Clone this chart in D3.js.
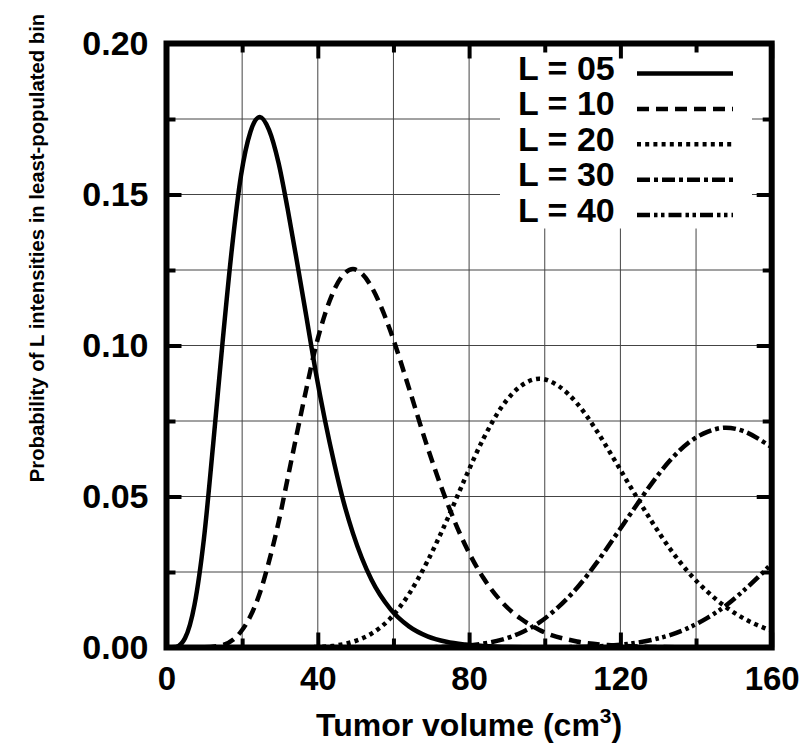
<!DOCTYPE html>
<html>
<head>
<meta charset="utf-8">
<script src="https://cdn.jsdelivr.net/npm/d3@7"></script>
<style>
  html, body { margin: 0; padding: 0; background: #fff; }
  text { font-family: "Liberation Sans", Arial, Helvetica, sans-serif; font-weight: bold; fill: #000; }
</style>
</head>
<body>
<svg id="chart" width="804" height="752"></svg>
<script>
// ---- Data ----
const seriesNames = ["L = 05", "L = 10", "L = 20", "L = 30", "L = 40"];

const volL05  = [0, 2.5, 4.9, 7.4, 9.9, 12.3, 14.8, 17.3, 19.7, 22.2, 24.7, 27.1, 29.6, 32.0, 34.5, 37.0, 39.4, 41.9, 44.4, 46.8, 49.3, 54.2, 59.2, 64.1, 69.0, 74.0, 78.9, 83.8, 88.7, 98.6, 160];
const probL05 = [0, 0.0002, 0.0031, 0.0141, 0.0361, 0.0668, 0.1008, 0.1322, 0.1563, 0.1708, 0.1757, 0.1714, 0.1606, 0.1454, 0.1277, 0.1094, 0.0916, 0.0752, 0.0607, 0.0483, 0.0378, 0.0224, 0.0127, 0.0070, 0.0037, 0.0019, 0.0010, 0.0005, 0.0002, 0.00005, 0];

const volL10  = [0, 9.9, 14.8, 19.7, 22.2, 24.7, 27.1, 29.6, 32.0, 34.5, 37.0, 39.4, 41.9, 44.4, 46.8, 49.3, 51.8, 54.2, 56.7, 59.2, 64.1, 69.0, 74.0, 78.9, 83.8, 88.7, 93.7, 98.6, 108.5, 118.3, 128.2, 138.0, 160];
const probL10 = [0, 0.00004, 0.0008, 0.0053, 0.0104, 0.0181, 0.0285, 0.0413, 0.0558, 0.0710, 0.0858, 0.0993, 0.1104, 0.1186, 0.1235, 0.1253, 0.1236, 0.1194, 0.1129, 0.1048, 0.0859, 0.0663, 0.0486, 0.0341, 0.0230, 0.0150, 0.0095, 0.0058, 0.0020, 0.0007, 0.0002, 0.00006, 0];

const volL20  = [0, 34.5, 39.4, 44.4, 49.3, 54.2, 59.2, 64.1, 69.0, 74.0, 78.9, 83.8, 88.7, 93.7, 98.6, 103.5, 108.5, 113.4, 118.3, 123.3, 128.2, 133.1, 138.0, 143.0, 147.9, 152.8, 157.8, 160];
const probL20 = [0, 0.00003, 0.00016, 0.0006, 0.0019, 0.0046, 0.0097, 0.0177, 0.0286, 0.0418, 0.0559, 0.0692, 0.0798, 0.0866, 0.0890, 0.0867, 0.0809, 0.0724, 0.0624, 0.0519, 0.0419, 0.0327, 0.0249, 0.0185, 0.0134, 0.0095, 0.0066, 0.0056];

const volL30  = [0, 64.1, 69.0, 74.0, 78.9, 83.8, 88.7, 93.7, 98.6, 103.5, 108.5, 113.4, 118.3, 123.3, 128.2, 133.1, 138.0, 143.0, 147.9, 152.8, 157.8, 160];
const probL30 = [0, 0.00002, 0.00008, 0.00022, 0.00056, 0.0013, 0.0026, 0.0049, 0.0083, 0.0133, 0.0197, 0.0275, 0.0363, 0.0454, 0.0542, 0.0619, 0.0678, 0.0714, 0.0728, 0.0715, 0.0681, 0.0663];

const volL40  = [0, 93.7, 98.6, 108.5, 113.4, 118.3, 123.3, 128.2, 133.1, 138.0, 143.0, 147.9, 152.8, 157.8, 160];
const probL40 = [0, 0.00001, 0.00003, 0.00017, 0.00037, 0.00075, 0.0014, 0.0025, 0.0041, 0.0065, 0.0098, 0.0139, 0.0191, 0.0250, 0.0278];

const xMajorTicks = [0, 40, 80, 120, 160];
const xMinorTicks = [20, 60, 100, 140];
const yMajorTicks = [0, 0.05, 0.10, 0.15, 0.20];
const yMinorTicks = [0.025, 0.075, 0.125, 0.175];
const xGrid = [20, 40, 60, 80, 100, 120, 140];
const yGrid = [0.025, 0.05, 0.075, 0.10, 0.125, 0.15, 0.175];

const xTitle = "Tumor volume (cm";
const yTitle = "Probability of L intensities in least-populated bin";

// ---- Layout ----
const L = 166.5, R = 771.7, T = 43.5, B = 647.5;
const x = d3.scaleLinear().domain([0, 160]).range([L, R]);
const y = d3.scaleLinear().domain([0, 0.20]).range([B, T]);

const svg = d3.select("#chart");

// Grid
const grid = svg.append("g").attr("stroke", "#444").attr("stroke-width", 1);
grid.selectAll("line.v").data(xGrid).join("line")
  .attr("x1", d => x(d)).attr("x2", d => x(d)).attr("y1", T).attr("y2", B);
grid.selectAll("line.h").data(yGrid).join("line")
  .attr("y1", d => y(d)).attr("y2", d => y(d)).attr("x1", L).attr("x2", R);

// Legend background
svg.append("rect").attr("x", 500).attr("y", T).attr("width", 252).attr("height", 185).attr("fill", "#fff");

// Curves
const styles = ["none", "12,7", "4,4.2", "13,4,4,4", "13,4,3.5,3.5,3.5,4"];
const series = [
  volL05.map((v, i) => [v, probL05[i]]),
  volL10.map((v, i) => [v, probL10[i]]),
  volL20.map((v, i) => [v, probL20[i]]),
  volL30.map((v, i) => [v, probL30[i]]),
  volL40.map((v, i) => [v, probL40[i]])
];

svg.append("clipPath").attr("id", "clip").append("rect")
  .attr("x", L).attr("y", T).attr("width", R - L).attr("height", B - T);

const line = d3.line().x(d => x(d[0])).y(d => y(d[1])).curve(d3.curveMonotoneX);
svg.append("g").attr("clip-path", "url(#clip)")
  .selectAll("path").data(series).join("path")
  .attr("d", line)
  .attr("fill", "none")
  .attr("stroke", "#000")
  .attr("stroke-width", 4.5)
  .attr("stroke-dasharray", (d, i) => styles[i]);

// Legend
const leg = svg.append("g");
seriesNames.forEach((name, i) => {
  const base = 80 + i * 35.4;
  leg.append("text").attr("x", 518).attr("y", base).attr("font-size", 34).text(name);
  leg.append("line").attr("x1", 637).attr("x2", 733).attr("y1", base - 6.5).attr("y2", base - 6.5)
    .attr("stroke", "#000").attr("stroke-width", 4.5).attr("stroke-dasharray", styles[i]);
});

// Axes with inward ticks
function styleAxis(size) {
  return g => {
    g.select(".domain").remove();
    g.selectAll(".tick line").attr("stroke", "#000").attr("stroke-width", 4);
    g.selectAll(".tick text").attr("font-size", size).attr("font-family", "Liberation Sans, Arial, sans-serif").attr("font-weight", "bold");
  };
}
svg.append("g").attr("transform", `translate(0,${B})`)
  .call(d3.axisBottom(x).tickValues(xMajorTicks).tickSize(-15).tickPadding(19).tickFormat(d3.format("d")))
  .call(styleAxis(33));
svg.append("g").attr("transform", `translate(0,${B})`)
  .call(d3.axisBottom(x).tickValues(xMinorTicks).tickSize(-9).tickFormat(""))
  .call(styleAxis(33));
svg.append("g").attr("transform", `translate(0,${T})`)
  .call(d3.axisTop(x).tickValues(xMajorTicks).tickSize(-15).tickFormat(""))
  .call(styleAxis(33));
svg.append("g").attr("transform", `translate(0,${T})`)
  .call(d3.axisTop(x).tickValues(xMinorTicks).tickSize(-9).tickFormat(""))
  .call(styleAxis(33));
svg.append("g").attr("transform", `translate(${L},0)`)
  .call(d3.axisLeft(y).tickValues(yMajorTicks).tickSize(-15).tickPadding(18).tickFormat(d3.format(".2f")))
  .call(styleAxis(34));
svg.append("g").attr("transform", `translate(${L},0)`)
  .call(d3.axisLeft(y).tickValues(yMinorTicks).tickSize(-9).tickFormat(""))
  .call(styleAxis(34));
svg.append("g").attr("transform", `translate(${R},0)`)
  .call(d3.axisRight(y).tickValues(yMajorTicks).tickSize(-15).tickFormat(""))
  .call(styleAxis(34));
svg.append("g").attr("transform", `translate(${R},0)`)
  .call(d3.axisRight(y).tickValues(yMinorTicks).tickSize(-9).tickFormat(""))
  .call(styleAxis(34));

// Frame
svg.append("rect").attr("x", L).attr("y", T).attr("width", R - L).attr("height", B - T)
  .attr("fill", "none").attr("stroke", "#000").attr("stroke-width", 6);

// Titles
const xt = svg.append("text").attr("x", (L + R) / 2).attr("y", 736).attr("text-anchor", "middle").attr("font-size", 32);
xt.append("tspan").text(xTitle);
xt.append("tspan").attr("font-size", 21).attr("dy", -13).text("3");
xt.append("tspan").attr("dy", 13).text(")");

svg.append("text").attr("transform", "translate(44,248) rotate(-90)")
  .attr("text-anchor", "middle").attr("font-size", 20.3).text(yTitle);
</script>
</body>
</html>
